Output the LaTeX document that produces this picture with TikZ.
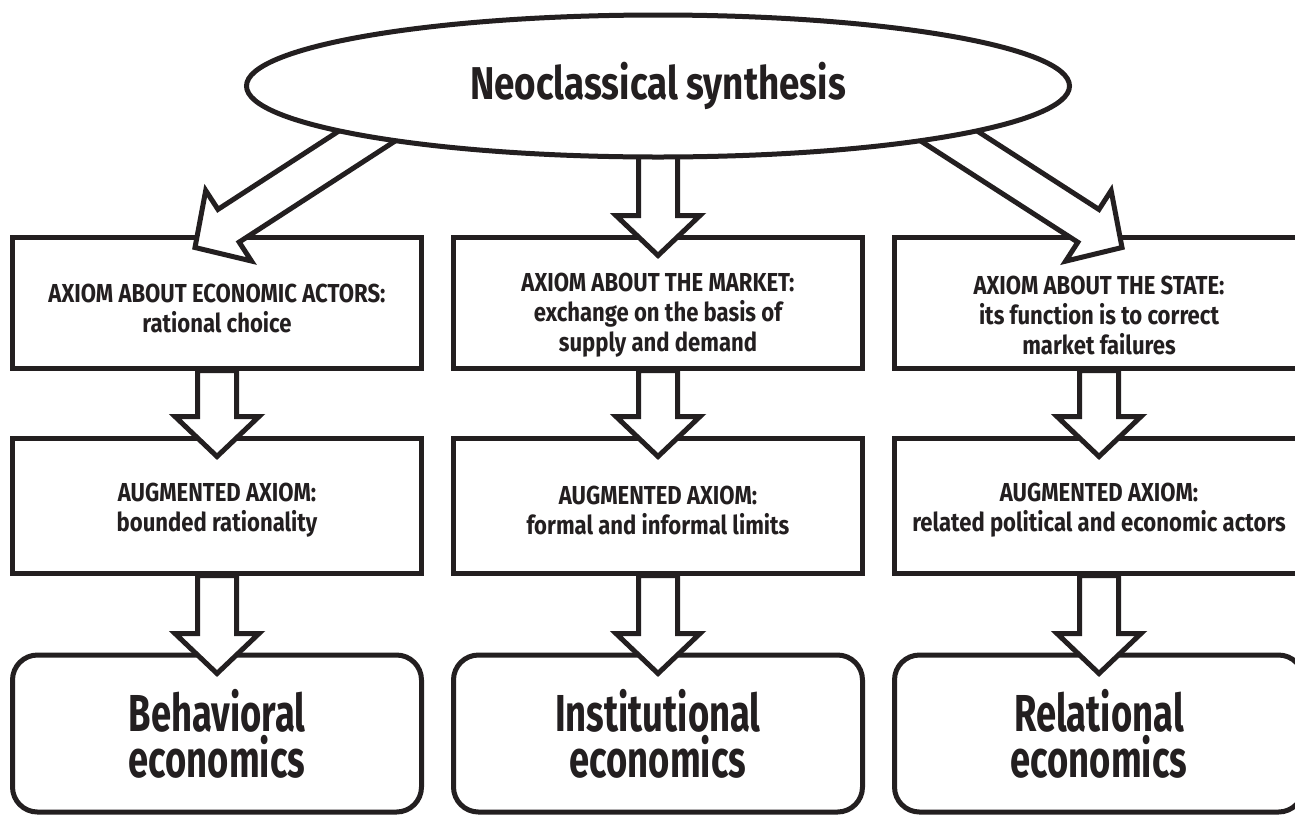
\documentclass[tikz,border=0pt]{standalone}
\usepackage{fontspec}
\setmainfont{Fira Sans}[FakeStretch=0.8]
\newfontfamily\boxfont{Fira Sans}[FakeStretch=0.85]
\newfontfamily\schoolfont{Fira Sans}[FakeStretch=0.7]
\usetikzlibrary{calc,shapes.geometric}
\definecolor{ink}{HTML}{231F20}
\pgfdeclarelayer{front}
\pgfsetlayers{main,front}
\tikzset{titleellipse/.style={shape=ellipse, draw=ink, fill=white, line width=5pt, minimum width=823pt, minimum height=142pt, inner sep=0pt, text=ink, font=\bfseries\fontsize{46}{50}\selectfont}}
\tikzset{axiombox/.style={shape=rectangle, draw=ink, fill=white, line width=5pt, minimum width=409pt, inner sep=0pt, align=center, text=ink, font=\boxfont\bfseries\fontsize{26}{30}\selectfont, text height=#1}, axiombox/.default=61pt}
\tikzset{schoolbox/.style={shape=rectangle, draw=ink, fill=white, line width=5pt, minimum width=409pt, minimum height=157pt, rounded corners=25pt, inner sep=0pt, align=center, text=ink, font=\schoolfont\bfseries\fontsize{52}{46}\selectfont}}
\tikzset{fatarrow/.style={draw=ink, fill=white, line width=5pt}}
% hollow block arrow from #1 to the tip #2
\newcommand{\fatarrow}[2]{%
  \coordinate (fs) at (#1);
  \coordinate (ft) at (#2);
  \coordinate (fb) at ($(ft)!40pt!(fs)$);
  \draw[fatarrow] ($(fs)!19.5pt!90:(ft)$) -- ($(fb)!19.5pt!90:(ft)$)
    -- ($(fb)!42pt!90:(ft)$) -- (ft) -- ($(fb)!42pt!-90:(ft)$)
    -- ($(fb)!19.5pt!-90:(ft)$) -- ($(fs)!19.5pt!-90:(ft)$) -- cycle;}

\begin{document}
\begin{tikzpicture}[x=1pt,y=-1pt]
\useasboundingbox (0,0) rectangle (1295,815);
\clip (0,0) rectangle (1295,815);
\begin{pgfonlayer}{front}
\node[titleellipse] (title) at (658,86) {Neoclassical synthesis};
\end{pgfonlayer}
% axioms
\node[axiombox, minimum height=131pt] (ax1) at (217,302.5) {AXIOM ABOUT ECONOMIC ACTORS:\\rational choice};
\node[axiombox=104pt, minimum height=131pt] (ax2) at (658,302.5) {AXIOM ABOUT THE MARKET:\\exchange on the basis of\\supply and demand};
\node[axiombox=104pt, minimum height=131pt] (ax3) at (1099,302.5) {AXIOM ABOUT THE STATE:\\its function is to correct\\market failures};
% augmented axioms
\node[axiombox=58pt, minimum height=135pt] (aug1) at (217,505.5) {AUGMENTED AXIOM:\\bounded rationality};
\node[axiombox=58pt, minimum height=135pt] (aug2) at (658,505.5) {AUGMENTED AXIOM:\\formal and informal limits};
\node[axiombox=58pt, minimum height=135pt] (aug3) at (1099,505.5) {AUGMENTED AXIOM:\\related political and economic actors};
% schools
\node[schoolbox] (res1) at (217,733.5) {Behavioral\\economics};
\node[schoolbox] (res2) at (658,733.5) {Institutional\\economics};
\node[schoolbox] (res3) at (1099,733.5) {Relational\\economics};
% arrows
\coordinate (tipl) at ($(ax1.north)+(-22,13)$);
\coordinate (tipr) at ($(ax3.north)+(23,13)$);
\fatarrow{$(title.190)!-30pt!(tipl)$}{tipl}
\fatarrow{$(title.south)+(0,-15)$}{$(ax2.north)+(0,21)$}
\fatarrow{$(title.-10)!-30pt!(tipr)$}{tipr}
\foreach \c in {1,2,3}{
  \fatarrow{ax\c.south}{$(aug\c.north)+(0,21)$}
  \fatarrow{aug\c.south}{$(res\c.north)+(0,21)$}
}
\end{tikzpicture}
\end{document}
